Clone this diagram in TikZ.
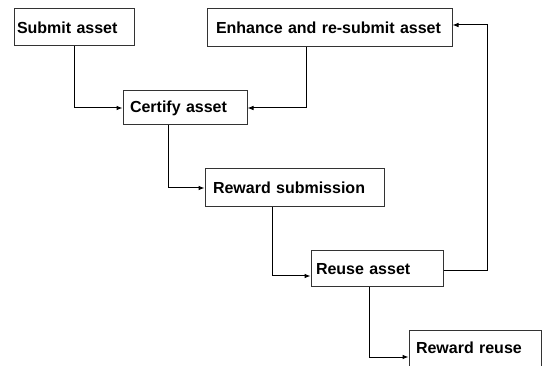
\documentclass[tikz,border=0pt]{standalone}
\usepackage{fontspec}
\setmainfont{Liberation Sans}
\usetikzlibrary{arrows.meta,calc}
\tikzset{
  box/.style={draw=black!80, line width=0.75pt, rectangle, inner sep=0pt, align=left, font=\fontsize{12pt}{14pt}\selectfont\bfseries},
  arr/.style={draw=black, line width=0.75pt, -{Latex[length=4.5pt,width=3.5pt]}},
  ln/.style={draw=black, line width=0.75pt}
}
\begin{document}
\begin{tikzpicture}[x=0.75pt,y=-0.75pt]
\clip (0,0) rectangle (542,366);
\fill[white] (0,0) rectangle (542,366);
\node[box, minimum width={120*0.75pt}, minimum height={37*0.75pt}, text width={114*0.75pt}] (submit) at (74,27.5) {Submit asset};
\node[box, minimum width={245*0.75pt}, minimum height={38*0.75pt}, text width={227*0.75pt}] (enhance) at (329.5,28) {Enhance and re-submit asset};
\node[box, minimum width={124*0.75pt}, minimum height={34*0.75pt}, text width={110*0.75pt}] (certify) at (185,108) {Certify asset};
\node[box, minimum width={179*0.75pt}, minimum height={38*0.75pt}, text width={163*0.75pt}] (rs) at (294.5,188) {Reward submission};
\node[box, minimum width={132*0.75pt}, minimum height={36*0.75pt}, text width={122*0.75pt}] (reuse) at (377,269) {Reuse asset};
\node[box, anchor=north, minimum width={132*0.75pt}, text height={23*0.75pt}, text depth={27*0.75pt}, text width={118*0.75pt}] (rr) at (475,330) {Reward reuse};
\coordinate (c1) at (306,0);
\coordinate (c2) at (168,0);
\coordinate (c3) at (272,0);
\coordinate (c4) at (487,0);
\coordinate (c5) at (369,0);
\coordinate (c6) at (0,357);
\draw[arr] (submit.south) |- (certify.west);
\draw[arr] (enhance.south -| c1) |- (certify.east);
\draw[arr] (certify.south -| c2) |- (rs.west);
\draw[arr] (rs.south -| c3) |- ($(reuse.west)+(0,7)$);
\draw[arr] ($(reuse.east)+(0,2)$) -| ($(c4)+(0,25)$) -- ($(enhance.east)+(0,-3)$);
\draw[arr] (reuse.south -| c5) |- (rr.west |- c6);
\end{tikzpicture}
\end{document}
